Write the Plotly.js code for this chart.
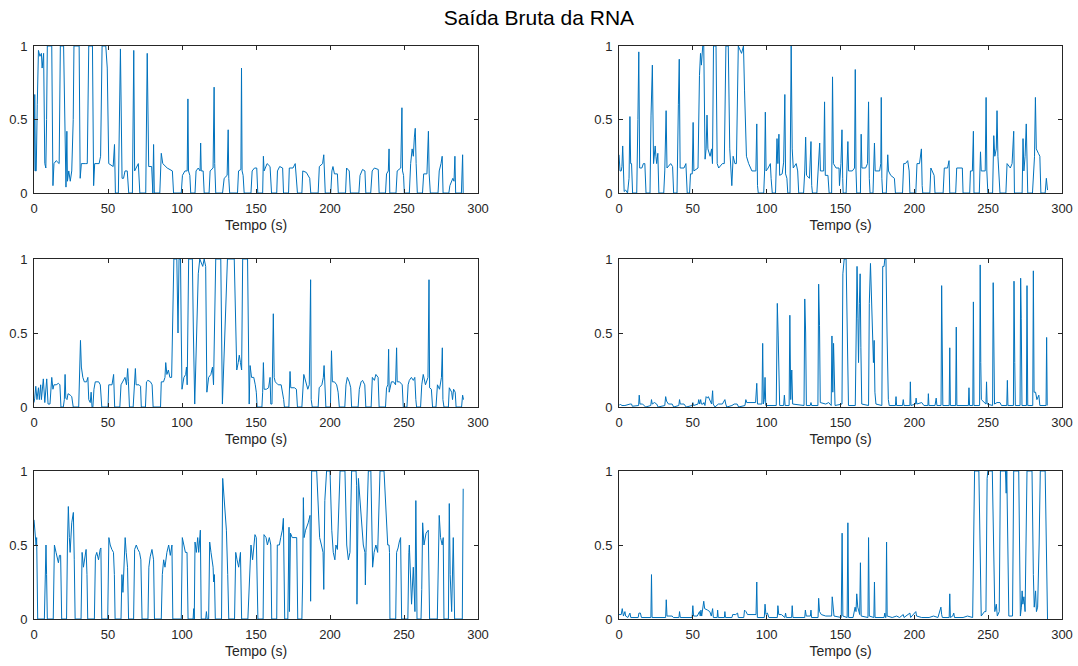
<!DOCTYPE html>
<html>
<head>
<meta charset="utf-8">
<script src="https://cdn.plot.ly/plotly-3.0.1.min.js"></script>
<style>html,body{margin:0;padding:0;background:#fff;}#chart{width:1078px;height:666px;}</style>
</head>
<body>
<div id="chart"></div>
<script>
// ---- Data: [tempo (s), saída da RNA] ----
const chartTitle = 'Saída Bruta da RNA';
const xAxisTitle = 'Tempo (s)';
const xTickVals = [0, 50, 100, 150, 200, 250, 300];
const xTickText = ['0', '50', '100', '150', '200', '250', '300'];
const yTickVals = [0, 0.5, 1];
const yTickText = ['0', '0.5', '1'];

const rna1 = [[0,0.15],[0.5,0.67],[1,0.15],[1.5,0.15],[2.2,0.6],[3,0.97],[4,0.93],[5,0.95],[5.5,0.85],[6.5,0.95],[7.3,0.2],[8,0.17],[8.5,0.5],[9,1],[12,1],[12.8,0.05],[13.5,0.2],[15,0.22],[17,0.2],[17.8,1],[20,1],[21,0.3],[21.6,0.04],[22.2,0.42],[22.6,0.08],[23.5,0.15],[24.5,0.08],[25.5,0.15],[26.5,0.5],[27,1],[30.5,1],[31.2,0.1],[32,0.2],[35,0.2],[36,0.2],[37,1],[39.5,1],[40.3,0.05],[41,0.2],[44,0.2],[45,0.25],[46,1],[48.5,1],[49.5,0.85],[50.5,0.2],[53.5,0.18],[54.4,0.33],[55,0],[57,0],[58.4,0.98],[59.5,0.1],[60.5,0.1],[61.5,0.15],[63,0.15],[64,0],[66.5,0],[67.4,0.97],[68,0.15],[70.5,0.2],[71.5,0],[75.5,0],[76.5,0.95],[77,0.3],[77.5,0.18],[79.5,0.18],[80.3,0],[80.8,0.33],[81.3,0],[85,0],[86,0.27],[87,0.2],[90,0.17],[93.5,0.15],[94.3,0],[99.5,0],[100.3,0.12],[102,0.15],[103.5,0.15],[104,0.64],[104.4,0.15],[105.3,0.12],[105.9,0],[108.8,0],[109.5,0.15],[111,0.17],[112.2,0.15],[112.6,0.34],[113,0.15],[114.3,0.15],[115,0],[118.3,0],[119,0.15],[121,0.17],[121.7,0.72],[122.1,0.2],[122.8,0],[127.4,0],[128.5,0.1],[130.5,0.12],[131.2,0.43],[131.6,0.1],[132.2,0],[137.5,0],[138.2,0.15],[139.8,0.16],[140.2,0.85],[140.6,0.15],[141.3,0.12],[142,0],[146.6,0],[147.4,0.15],[149,0.17],[150.5,0.17],[151.2,0],[154.5,0],[155,0.25],[155.5,0.15],[157.5,0.2],[159.5,0.18],[160.5,0],[164,0],[164.5,0.15],[166,0.18],[168,0.17],[168.6,0],[172,0],[172.5,0.17],[175,0.17],[176.5,0.2],[177.5,0.1],[178,0],[181,0],[181.6,0.15],[184,0.14],[186.3,0.1],[187,0],[192,0],[192.8,0.18],[195,0.2],[195.8,0.26],[196.3,0.1],[196.8,0],[200.5,0],[201.3,0.15],[202,0.18],[203,0.13],[205,0.13],[205.6,0],[210.5,0],[211.2,0.17],[213,0.15],[213.8,0],[219.5,0],[220.3,0.12],[222,0.16],[223.6,0.15],[224.2,0],[227.5,0],[228.5,0.15],[230,0.17],[232.6,0.16],[233.2,0],[237.5,0],[238.2,0.13],[239.4,0.15],[239.9,0.3],[240.4,0],[244.6,0],[245.4,0.15],[247.8,0.17],[248.6,0.58],[249,0.15],[249.7,0.12],[250.2,0],[253.6,0],[254.5,0.2],[255.5,0.3],[256.3,0.25],[257,0.38],[257.6,0.44],[258.2,0.2],[259,0],[262.5,0],[263.3,0.13],[265.5,0.13],[266.5,0.42],[267,0.13],[267.8,0],[273,0],[273.8,0.15],[275,0.2],[275.8,0.25],[276.4,0],[280.3,0],[281,0.05],[282,0.08],[283,0.1],[283.8,0.08],[284.4,0.25],[284.9,0],[288.8,0],[289.6,0.26],[290,0]];

const rna2 = [[0,0.26],[0.7,0.15],[1.5,0.15],[2,0.18],[2.5,0.32],[3,0.1],[3.5,0.01],[4.5,0.02],[5.8,0],[6.8,0.1],[7.4,0.52],[7.9,0.2],[8.5,0.2],[9.2,0],[12,0],[12.8,0.5],[13.4,0.96],[14,0.17],[15.5,0.17],[16.5,0.2],[17.5,0.2],[18.3,0],[21,0],[21.7,0.53],[22.6,0.87],[23.4,0.2],[24.5,0.32],[25,0.25],[25.5,0.2],[26.3,0.27],[27,0],[30.3,0],[31,0.15],[31.9,0.56],[32.5,0.17],[35,0.2],[36.3,0.18],[37,0],[39.3,0],[40.2,0.6],[40.8,0.91],[41.4,0.17],[44,0.17],[45.3,0.2],[46.2,0],[47.8,0],[48.4,0.13],[49.6,0.13],[50.2,0.48],[50.7,0.15],[53.5,0.17],[54.5,0.8],[55.2,0.95],[55.8,0.87],[56.7,1],[57.4,1],[58.3,0.23],[59,0.3],[59.6,0.53],[60.2,0.3],[61.7,0.25],[62.7,0.3],[63.3,0.2],[64,1],[65.7,1],[66.5,0.2],[67.5,0.17],[70,0.2],[71.3,0.2],[72.4,1],[74,1],[75,0.3],[76.4,0.05],[77.3,0.25],[78.5,0.2],[79.5,0.2],[80.8,1],[83,0.95],[84.3,1],[85,0.7],[86.3,0.25],[87.8,0.2],[90,0.15],[92.7,0.15],[93.3,0.47],[93.8,0.05],[94.3,0],[98,0],[98.6,0.15],[99.1,0.55],[99.6,0.15],[101,0.17],[102.5,0.2],[103,0.1],[103.8,0],[106,0],[107,0.37],[107.6,0.2],[108.3,0.4],[108.8,0.12],[110.5,0.13],[111.5,0.21],[112.3,0.67],[112.8,0.13],[113.7,0.1],[114.3,0],[115.8,0],[116.6,1],[117.3,0.3],[118,0.17],[120,0.2],[121,0.15],[121.7,0],[125,0],[125.8,0.15],[126.4,0.38],[127,0.12],[129,0.1],[130,0.35],[130.5,0.05],[131,0],[134,0],[135,0.15],[135.9,0.34],[136.4,0.15],[138.6,0.15],[139.2,0.62],[139.7,0.12],[141.5,0.12],[142.3,0],[144,0],[144.6,0.79],[145.2,0.2],[147,0.17],[149,0.17],[149.3,0.05],[150.3,0.2],[151,0.43],[151.5,0.1],[151.8,0],[153.8,0],[154.5,0.15],[155,0.35],[155.5,0.15],[158,0.15],[159.5,0.17],[160,0.84],[160.5,0.15],[161,0],[163.5,0],[164,0.4],[164.5,0.17],[167,0.17],[168.3,0.2],[169,0.62],[169.5,0.1],[170,0],[172,0],[173,0.34],[173.5,0.15],[176.5,0.15],[177.3,0.2],[177.6,0.65],[178,0.1],[178.5,0],[181,0],[182,0.26],[182.5,0.15],[184,0.12],[186.5,0.1],[187.2,0],[192,0],[192.8,0.2],[194,0.2],[195.5,0.22],[196.5,0.15],[197,0],[201,0],[201.8,0.2],[203.5,0.2],[204.8,0.3],[205.3,0.05],[205.7,0],[210.5,0],[211.2,0.17],[213.4,0.12],[214,0],[219.5,0],[220.3,0.17],[222.5,0.17],[223.5,0.22],[224,0],[228,0],[228.7,0.17],[231,0.17],[232.5,0.17],[233,0],[237.5,0],[238,0.15],[239.3,0.15],[240,0.42],[240.4,0],[244,0],[244.8,0.28],[245.3,0.15],[248,0.15],[248.6,0.65],[249.1,0.15],[249.8,0],[253,0],[253.8,0.39],[254.5,0.25],[255.5,0.3],[256,0.56],[256.6,0.25],[257.3,0.15],[258,0],[262,0],[262.8,0.2],[265,0.17],[266.2,0.2],[267.3,0.42],[267.8,0],[273,0],[273.6,0.37],[274.2,0.15],[275,0.25],[275.8,0.47],[276.3,0.1],[276.8,0],[280,0],[280.8,0.2],[281.4,0.25],[282,0.65],[282.6,0.3],[284,0.27],[285,0.25],[285.7,0],[288.6,0],[289.4,0.1],[289.8,0.05],[290.2,0.02]];

const rna3 = [[0,0.03],[0.5,0.06],[1.2,0.14],[2,0.05],[3,0.13],[3.6,0.05],[4.5,0.15],[5,0.05],[6.3,0.19],[7.3,0.03],[8.6,0.19],[9.5,0.02],[10.8,0.02],[11.5,0.12],[12,0.2],[12.8,0.12],[13.5,0.15],[15,0.15],[16.5,0.16],[17.5,0.15],[18.2,0],[19.8,0],[20.5,0.05],[21,0.22],[21.5,0.06],[22.3,0.05],[23,0.09],[24.5,0.08],[25.5,0.07],[26.5,0],[30.2,0],[31.4,0.45],[32,0.27],[33,0.2],[34,0.17],[35.5,0.17],[36.4,0.2],[37,0.05],[38,0.03],[38.6,0.1],[39.2,0],[39.8,0],[40.5,0.12],[41.4,0.17],[43.7,0.17],[44.8,0.15],[45.8,0],[50,0],[50.5,0.15],[52.7,0.15],[53.8,0.22],[54.5,0],[58,0],[58.8,0.15],[60,0.17],[61.5,0.2],[62.5,0.15],[63.3,0.26],[63.8,0.17],[64.5,0],[67,0],[67.8,0.15],[68.5,0.26],[69,0.15],[71,0.15],[72,0.14],[72.5,0],[75.3,0],[76,0.17],[77,0.18],[78.7,0.17],[79.8,0.15],[80.5,0],[85.5,0],[86,0.17],[87.5,0.17],[88.5,0.2],[89,0.3],[89.8,0.22],[90.8,0.25],[91.8,0.2],[93,0.2],[93.8,0.6],[94.5,1],[96.5,1],[97.3,0.5],[98,1],[99,1],[99.5,0.5],[100,0.12],[101.3,0.2],[102.5,0.22],[103,0.27],[103.5,0.15],[104.5,1],[107,1],[107.7,0.5],[108.6,0.02],[111,0.9],[112,1],[114,0.95],[115,1],[116,0.95],[116.8,0.1],[118,0.2],[119.5,0.22],[120.6,0.27],[121.3,0.15],[122.8,1],[126.2,1],[127.3,0.02],[129,0.5],[130.7,1],[135.3,1],[137,0.25],[138,0.3],[138.7,0.35],[139.5,0.3],[140.3,0.25],[141,1],[144.3,1],[145.4,0.02],[146,0.28],[147,0.2],[148.5,0.2],[149.5,0.15],[150.2,0.1],[150.8,0],[154,0],[154.5,0.1],[155,0.3],[155.5,0.12],[157,0.12],[158.5,0.13],[159.5,0.2],[160,0.02],[160.8,0.02],[161.7,0.63],[162.3,0.2],[163,0.17],[165,0.15],[167,0.15],[168,0.1],[168.7,0.05],[169.2,0],[172.2,0],[173,0.24],[173.5,0.13],[176,0.13],[177.3,0.12],[178,0],[181,0],[182.3,0.22],[183.5,0.17],[185,0.12],[186,0.15],[186.9,0.86],[187.3,0.05],[188,0],[192,0],[192.7,0.13],[194.5,0.15],[195.5,0.2],[196,0.28],[196.5,0.1],[197.2,0],[200.3,0],[201,0.38],[201.6,0.17],[203,0.17],[204.5,0.15],[205.5,0.1],[206.3,0],[210,0],[210.8,0.15],[211.7,0.2],[213,0.17],[214,0.13],[214.6,0],[219,0],[219.8,0.12],[221,0.17],[222,0.18],[223.5,0.15],[224.2,0],[227.8,0],[228.6,0.2],[230,0.18],[231,0.22],[232.5,0.2],[233.2,0],[237.5,0],[238.2,0.13],[239.1,0.15],[239.6,0.39],[240,0.1],[241.5,0.17],[243,0.17],[244.3,0.15],[245,0.4],[245.4,0.17],[247,0.17],[248.8,0.15],[249.5,0],[252,0],[252.8,0.15],[253.6,0.18],[255,0.2],[256.3,0.18],[257.3,0.2],[258,0.05],[258.5,0],[261.2,0],[262,0.15],[263,0.22],[264.5,0.15],[266.2,0.2],[266.9,0.86],[267.3,0.13],[268.5,0.12],[269.3,0],[271.6,0],[272.6,0.15],[274,0.12],[275.3,0.2],[275.9,0.4],[276.3,0.05],[277,0],[280,0],[280.6,0.13],[282.2,0.1],[282.8,0.05],[283.5,0.12],[284.6,0.1],[285.2,0],[288.9,0],[289.6,0.08],[290.2,0.05]];

const rna4 = [[0,0.01],[1,0.02],[1.8,0.01],[4,0.01],[7.5,0.02],[8.5,0.02],[9,0.005],[13.3,0.01],[13.7,0.08],[14.2,0.02],[16,0.02],[18,0],[21.5,0.01],[22,0.05],[22.5,0.02],[24,0.03],[25.5,0.02],[26.5,0],[31,0.01],[31.6,0.07],[32.2,0.04],[33.5,0.02],[36,0.02],[37,0],[40.5,0.01],[41,0.05],[41.5,0.02],[44,0.02],[45.5,0],[49.5,0.01],[50,0.03],[50.5,0.01],[53.5,0.02],[54,0.05],[54.6,0.02],[55.3,0.05],[55.8,0.02],[57,0.02],[57.5,0.03],[58.2,0.01],[59,0.07],[60,0.06],[60.5,0.07],[61.5,0.04],[62.7,0.02],[63.4,0.11],[63.8,0.02],[65,0],[67.3,0.02],[70,0.02],[71.7,0.05],[72.3,0.02],[73,0],[76.5,0.01],[78,0.02],[80,0.02],[81,0],[85.3,0.01],[85.9,0.05],[86.5,0.03],[90,0.03],[92.5,0.03],[93.3,0.16],[93.8,0.02],[96.8,0.02],[97.3,0.43],[97.8,0.02],[98.4,0.05],[98.9,0.2],[99.4,0.01],[106.5,0.01],[107.2,0.7],[107.8,0.48],[108.3,0.05],[108.8,0.01],[111.5,0.01],[112,0.08],[112.5,0.01],[115.2,0.01],[115.7,0.62],[116.3,0.05],[117,0.25],[117.6,0.02],[125.3,0.01],[125.8,0.73],[126.4,0.5],[126.9,0.01],[129.5,0.01],[130,0.03],[130.5,0.01],[134.7,0.01],[135.2,0.83],[135.8,0.55],[136.3,0.03],[140,0.02],[142,0.03],[143.7,0.01],[144.2,0.48],[144.8,0.1],[145.3,0.43],[145.8,0.05],[146.3,0.01],[151,0.02],[151.6,0.9],[152.5,1],[153.8,1],[154.6,0.5],[155.4,0.01],[160,0.01],[160.6,0.5],[161.2,0.95],[161.8,0.6],[162.2,0.3],[162.8,0.7],[163.3,0.9],[163.8,0.4],[164.4,0.02],[169,0.01],[169.5,0.7],[170.3,0.97],[171,0.7],[171.8,0.4],[172.3,0.3],[172.8,0.45],[173.3,0.1],[174,0.02],[178,0.01],[178.6,0.95],[179.5,0.95],[180,1],[180.8,1],[181.5,0.5],[182.4,0.05],[183,0.01],[187.2,0.01],[187.6,0.07],[188,0.01],[192,0.01],[192.5,0.05],[193,0.01],[197,0.01],[197.3,0.17],[197.7,0.01],[200.8,0.02],[201.2,0.06],[201.7,0.02],[205,0.03],[206.5,0.01],[209.2,0.01],[209.5,0.09],[209.9,0.01],[214,0.01],[214.8,0.06],[215.3,0.01],[218.1,0.01],[218.5,0.82],[218.9,0.45],[219.3,0.01],[223.6,0.01],[224,0.4],[224.4,0.01],[228,0.01],[228.4,0.54],[228.8,0.01],[236.6,0.01],[237,0.13],[237.4,0.01],[239.6,0.01],[240,0.71],[240.4,0.01],[244.2,0.01],[244.6,0.96],[245,0.3],[245.4,0.05],[248.5,0.02],[248.9,0.17],[249.3,0.02],[253,0.01],[253.4,0.84],[253.8,0.3],[254.3,0.02],[256,0.03],[258,0.03],[259,0.01],[262.6,0.01],[263,0.18],[263.4,0.01],[267.1,0.01],[267.5,0.85],[268,0.3],[268.4,0.01],[271.6,0.01],[272,0.87],[272.4,0.6],[272.9,0.01],[275.9,0.01],[276.3,0.82],[276.8,0.01],[280.2,0.01],[280.6,0.92],[281.1,0.1],[282.1,0.1],[283,0.05],[284.3,0.08],[285,0.01],[289.2,0.01],[289.6,0.47],[290,0.01]];

const rna5 = [[0,0.67],[0.7,0.6],[1.4,0.5],[1.8,0.55],[2.2,0.3],[2.5,0],[7,0],[7.5,0.4],[8.1,0.5],[8.5,0.3],[9,0],[13,0],[13.5,0.4],[13.8,0.5],[14.9,0.45],[15.8,0.4],[16.5,0.38],[17.2,0.43],[18,0.43],[18.7,0],[22,0],[22.6,0.5],[23.2,0.76],[23.9,0.55],[24.4,0.45],[25.5,0.65],[26.6,0.72],[27.2,0.4],[27.8,0],[31.8,0],[32.5,0.45],[33.4,0.35],[34.5,0.43],[35.2,0.47],[35.8,0.3],[36.3,0],[40.8,0],[41.5,0.42],[42.4,0.45],[43.6,0.4],[44.7,0.47],[45.2,0.48],[45.8,0],[49.8,0],[50.6,0.55],[51.5,0.5],[52.6,0.47],[53.7,0.45],[54.3,0.3],[54.8,0],[58.8,0],[59.4,0.3],[60.1,0.18],[61,0.4],[61.6,0.55],[62.3,0.45],[63.2,0.35],[63.9,0],[67.3,0],[68,0.47],[69.1,0.5],[70.2,0.47],[71.3,0.45],[72.2,0.4],[73,0],[77,0],[77.6,0.35],[78.5,0.42],[79.7,0.47],[80.8,0.4],[81.4,0],[86,0],[86.7,0.3],[87.6,0.4],[88.5,0.35],[89.8,0.45],[91,0.5],[92.1,0.43],[93.2,0.5],[93.8,0],[99.5,0],[100.2,0.55],[101.1,0.5],[102.3,0.45],[103.4,0.45],[104.1,0],[107.5,0],[107.9,0.07],[108.3,0],[108.8,0.52],[109.7,0.45],[110.6,0.55],[111.3,0.45],[112.4,0.6],[113,0],[116,0],[116.5,0.05],[117,0],[118,0],[118.7,0.52],[119.6,0.45],[121,0.35],[121.4,0.25],[121.9,0.3],[122.5,0],[126.7,0],[127.5,0.95],[128.6,0.8],[129.3,0.75],[130,0.6],[130.9,0.3],[131.6,0],[135.5,0],[136.3,0.45],[137.2,0.4],[138.3,0.35],[139.5,0.45],[140.3,0],[144.5,0],[145.1,0.18],[146.6,0.5],[147.7,0.4],[148.8,0.55],[149.3,0.57],[150.2,0.55],[150.7,0.2],[151.3,0],[154.8,0],[155.4,0.57],[156.8,0.55],[157.7,0.5],[159,0.55],[160,0.5],[160.6,0],[164,0],[164.4,0.5],[165.8,0.5],[166.7,0.55],[167.8,0.6],[168.5,0.68],[168.9,0.35],[169.4,0],[171.5,0],[171.9,0.35],[172.3,0.62],[172.6,0.05],[173.3,0.58],[174.5,0.55],[176.2,0.55],[177.5,0.55],[178.2,0],[181,0],[181.5,0.25],[182,0.82],[182.5,0.55],[183.5,0.6],[185.3,0.65],[186.5,0.7],[186.9,0.12],[187.6,1],[191,1],[192,0.7],[193,0.55],[194.2,0.5],[195.3,0.45],[195.8,0.2],[196.5,0.8],[197.7,1],[200,1],[201.2,0.6],[202.2,0.45],[203.3,0.4],[204,0.5],[205,0.47],[206.8,1],[210.1,1],[211.3,0.5],[212.4,0.4],[213.5,0.45],[214.6,1],[217.6,1],[218,0.9],[218.2,0.1],[219.2,0.95],[220.3,0.8],[222.5,0.5],[223.6,0.45],[223.9,0.23],[224.3,0.45],[225.9,1],[227.6,1],[228.8,0.35],[229.8,0.45],[231,0.5],[232.2,0.45],[233.8,1],[236.5,1],[237.2,0.85],[239,0.5],[239.9,0.5],[240.2,0.45],[240.5,0],[244.4,0],[245,0.45],[246,0.48],[246.8,0.52],[247.7,0.55],[248.4,0],[252.6,0],[253.3,0.45],[253.6,0.5],[255.1,0.1],[256.3,0.35],[257.4,0.05],[258,0.8],[258.8,0],[261.5,0],[262,0.2],[262.6,0.65],[263.5,0.5],[264.9,0.58],[266.4,0.6],[267.3,0],[272.5,0],[273.2,0.3],[273.8,0.7],[274.7,0.55],[275.8,0.5],[276.5,0.55],[277,0],[280,0],[280.6,0.78],[281.2,0.3],[282.2,0.05],[283.3,0.55],[284.2,0],[289.4,0],[290,0.88]];

const rna6 = [[0,0.03],[1.5,0.03],[2.2,0.07],[3,0.02],[4,0.05],[4.5,0.02],[6,0.01],[7.4,0.04],[8,0.01],[13,0.01],[13.5,0.04],[14.5,0.04],[15.2,0.01],[21.6,0.01],[22,0.3],[22.4,0.01],[31.6,0.01],[32,0.13],[32.5,0.02],[36,0.02],[36.8,0.01],[40.6,0.01],[41,0.05],[41.5,0.01],[49.5,0.01],[50,0.09],[50.5,0.02],[53,0.02],[54.5,0.05],[55,0.02],[55.5,0.06],[56,0.02],[57.4,0.12],[58,0.07],[60,0.06],[61.5,0.05],[62.5,0.02],[63.4,0.07],[63.9,0.01],[66.5,0.01],[66.8,0.06],[67.2,0.01],[71.4,0.01],[71.7,0.05],[72.1,0.01],[76.5,0.01],[77,0.03],[79,0.03],[80.3,0.04],[80.8,0.01],[84.5,0.01],[85,0.06],[86,0.05],[87,0.03],[92.8,0.03],[93.3,0.25],[93.7,0.01],[98.4,0.01],[98.9,0.1],[99.5,0.03],[100.5,0.04],[101.5,0.01],[107.2,0.01],[107.6,0.09],[108.2,0.03],[110,0.03],[112.3,0.01],[112.8,0.04],[113.3,0.01],[116.9,0.01],[117.3,0.09],[117.8,0.01],[125.8,0.01],[126.2,0.06],[126.8,0.02],[129.6,0.02],[130,0.06],[130.4,0.01],[134.8,0.01],[135.2,0.14],[135.8,0.05],[137,0.03],[140,0.02],[144,0.02],[144.4,0.15],[145,0.1],[145.6,0.02],[150.5,0.01],[151.1,0.58],[151.6,0.02],[154.5,0.01],[155,0.65],[155.5,0.01],[158.5,0.01],[159.9,0.08],[160.5,0.05],[161,0.17],[161.7,0.08],[163,0.03],[163.5,0.38],[164,0.02],[168.6,0.01],[169,0.55],[169.5,0.02],[172.6,0.01],[173,0.25],[173.4,0.01],[179.5,0.01],[180,0.04],[180.5,0.01],[180.8,0.01],[181.2,0.52],[181.6,0.02],[185,0.01],[188,0.02],[190,0.01],[192.5,0.03],[193,0.01],[197,0.04],[197.5,0.01],[201,0.05],[201.5,0.02],[205,0.01],[210,0.01],[213,0.02],[216,0.01],[218,0.08],[218.5,0.03],[219,0.01],[223.6,0.01],[224,0.17],[224.4,0.01],[226,0.02],[226.7,0.04],[227.2,0.01],[233,0.01],[236,0.02],[239.5,0.01],[240.3,0.95],[240.8,1],[243.7,1],[244.5,0.5],[245.3,0.02],[247.5,0.05],[248.5,0.05],[249.3,0.95],[249.8,1],[252.8,1],[253.6,0.5],[254.5,0.05],[255.5,0.1],[256.2,0.02],[257.5,0.05],[258.3,1],[261.7,1],[262.2,0.85],[262.6,1],[263.3,0.4],[264,0.02],[266.5,0.02],[267.3,1],[270.7,1],[271.3,0.3],[271.8,0.02],[272.5,0.08],[273,0.19],[273.5,0.1],[274.2,0.15],[275,0.05],[276.3,1],[279.7,1],[280.3,0.3],[280.6,0.3],[281.2,0.08],[282.1,0.19],[282.7,0.05],[283.5,0.08],[284.5,0.5],[285.3,1],[288.6,1],[289.4,0.5],[290.2,0]];

const series = [rna1, rna2, rna3, rna4, rna5, rna6];

// ---- Layout ----
const W = 1078, H = 666;
const axisColor = '#262626';
const lineColor = '#0072BD';
const fontFam = 'Liberation Sans, Arial, Helvetica, sans-serif';
const colDom = [[34 / W, 478 / W], [619 / W, 1062 / W]];
const rowDom = [[(H - 193) / H, (H - 46) / H], [(H - 407) / H, (H - 259) / H], [(H - 619) / H, (H - 471) / H]];

const traces = [];
const layout = {
  width: W, height: H,
  margin: {l: 0, r: 0, t: 0, b: 0},
  paper_bgcolor: '#ffffff', plot_bgcolor: '#ffffff',
  showlegend: false,
  font: {family: fontFam, size: 13, color: axisColor},
  title: {text: chartTitle, x: 0.5, xanchor: 'center', xref: 'paper', y: 1 - 18 / H, yanchor: 'middle', yref: 'container',
          font: {family: fontFam, size: 21, color: '#000000'}}
};

series.forEach((s, i) => {
  const n = i + 1;
  const sfx = n === 1 ? '' : String(n);
  traces.push({
    type: 'scatter', mode: 'lines',
    x: s.map(p => p[0]), y: s.map(p => p[1]),
    xaxis: 'x' + sfx, yaxis: 'y' + sfx,
    line: {color: lineColor, width: 1},
    hoverinfo: 'x+y'
  });
  const col = i % 2, row = Math.floor(i / 2);
  layout['xaxis' + sfx] = {
    domain: colDom[col], anchor: 'y' + sfx, range: [0, 300],
    tickmode: 'array', tickvals: xTickVals, ticktext: xTickText,
    ticks: 'inside', ticklen: 4, tickwidth: 1, tickcolor: axisColor,
    showline: true, linecolor: axisColor, linewidth: 1, mirror: 'ticks',
    showgrid: false, zeroline: false, ticklabelstandoff: 3,
    tickfont: {family: fontFam, size: 13, color: axisColor},
    title: {text: xAxisTitle, standoff: 5, font: {family: fontFam, size: 14, color: axisColor}}
  };
  layout['yaxis' + sfx] = {
    domain: rowDom[row], anchor: 'x' + sfx, range: [0, 1],
    tickmode: 'array', tickvals: yTickVals, ticktext: yTickText,
    ticks: 'inside', ticklen: 4, tickwidth: 1, tickcolor: axisColor,
    showline: true, linecolor: axisColor, linewidth: 1, mirror: 'ticks',
    showgrid: false, zeroline: false, ticklabelstandoff: 3,
    tickfont: {family: fontFam, size: 13, color: axisColor}
  };
});

Plotly.newPlot('chart', traces, layout, {displayModeBar: false, staticPlot: true});
</script>
</body>
</html>
